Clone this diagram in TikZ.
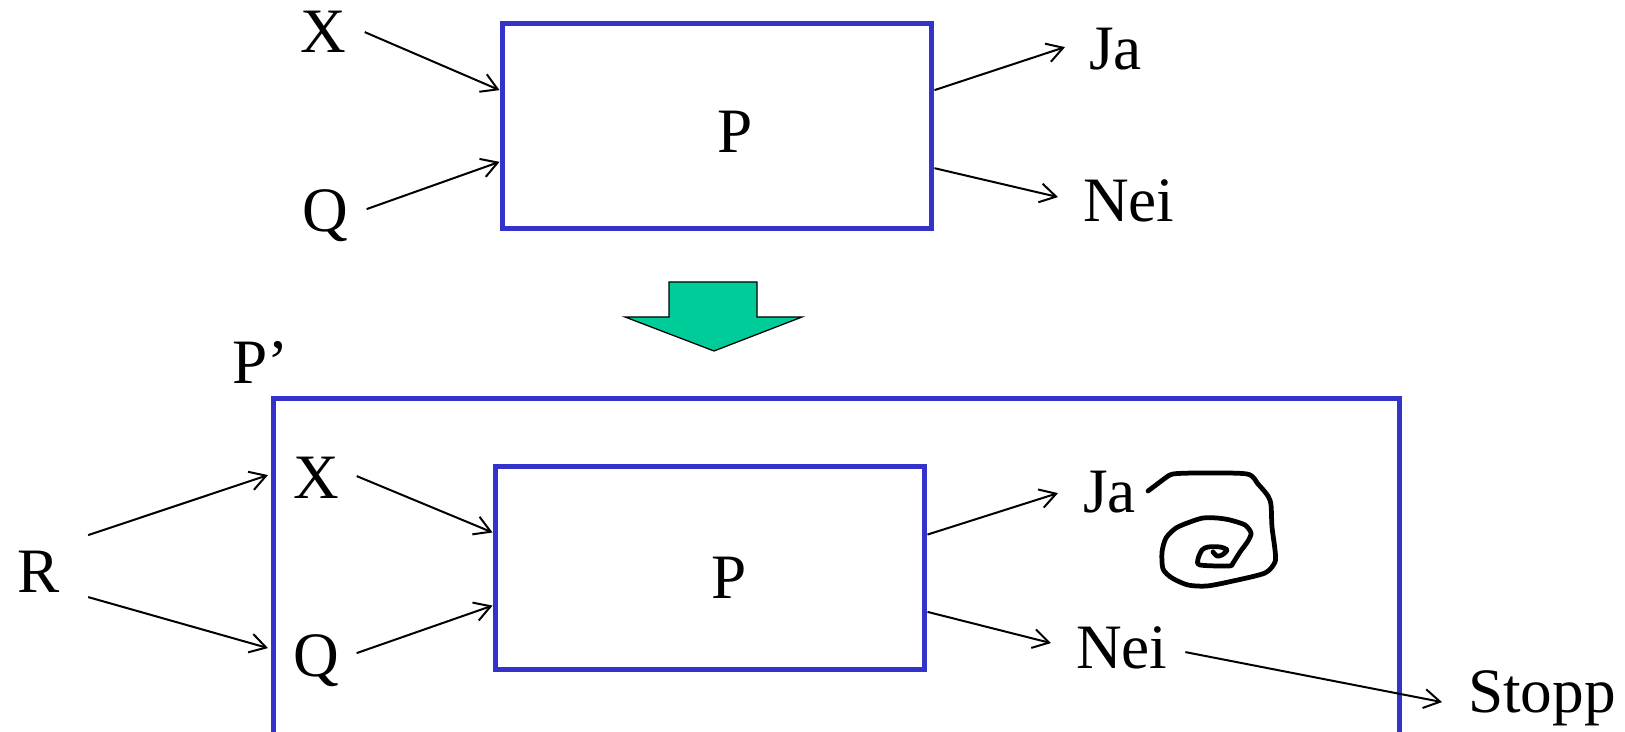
\documentclass[tikz,border=0pt]{standalone}
\usepackage{fontspec}
\setmainfont{Liberation Serif}
\usetikzlibrary{arrows.meta,calc}

\definecolor{pblue}{RGB}{51,51,204}
\definecolor{pgreen}{RGB}{0,204,153}

\tikzset{
  lbl/.style={font=\fontsize{36}{40}\selectfont, inner sep=0pt, outer sep=0pt,
              text height=23.8pt, text depth=0pt, anchor=base west},
  frame/.style={draw=pblue, line width=0.1cm, inner sep=0pt},
  pbox/.style={frame, minimum width=8.6cm},
  arr/.style={-{Straight Barb[length=0.32cm,width=0.38cm]}, line width=0.04cm},
  scribble/.style={line width=0.095cm, line cap=round, line join=round},
}

\begin{document}
\begin{tikzpicture}[x=0.02cm,y=-0.02cm]
  \useasboundingbox (0,0) rectangle (1625,732);
  \clip (0,0) rectangle (1625,732);

  % ---------- program P on its own ----------
  \node[pbox, minimum height=4.12cm] (P) at (717,126) {};
  \node[lbl] (Plbl) at (717,153) {P};
  \node[lbl] (X)   at (300,53)  {X};
  \node[lbl] (Q)   at (302,232) {Q};
  \node[lbl] (Ja)  at (1089,70) {Ja};
  \node[lbl] (Nei) at (1083,222) {Nei};

  \draw[arr] ([shift={(19,0)}]X.east) -- ($(P.north west)!0.33!(P.south west)$);
  \draw[arr] ([shift={(19,-2)}]Q.east) -- ($(P.north west)!0.67!(P.south west)$);
  \draw[arr] ($(P.north east)!0.33!(P.south east)$) -- ([shift={(-24,-2)}]Ja.west);
  \draw[arr] ($(P.north east)!0.70!(P.south east)$) -- ([shift={(-25,-4)}]Nei.west);

  % ---------- block arrow ----------
  \draw[fill=pgreen, line width=0.025cm]
    (669,282) -- (757,282) -- (757,317) -- (802,317) -- (714,351)
    -- (625,317) -- (669,317) -- cycle;

  % ---------- program P' wrapping P ----------
  \node[lbl] (Pplbl) at (232,384) {P’};
  \node[frame, minimum width=22.54cm, minimum height=8.04cm] (Pp) at (836.5,599) {};

  \node[pbox, minimum height=4.08cm] (Pi) at (710,568) {};
  \node[lbl] (Pilbl) at (711,598) {P};
  \node[lbl] (R)    at (17,592)   {R};
  \node[lbl] (Xi)   at (293,499)  {X};
  \node[lbl] (Qi)   at (293,676)  {Q};
  \node[lbl] (Jai)  at (1083,513) {Ja};
  \node[lbl] (Neii) at (1076,668) {Nei};
  \node[lbl] (Stopp) at (1468,712) {Stopp};

  \draw[arr] ([shift={(29,-36)}]R.east) -- ([shift={(-25,-3)}]Xi.west);
  \draw[arr] ([shift={(29,26)}]R.east) -- ([shift={(-25,-7)}]Qi.west);
  \draw[arr] ([shift={(18,-2)}]Xi.east) -- ($(Pi.north west)!0.33!(Pi.south west)$);
  \draw[arr] ([shift={(18,-2)}]Qi.east) -- ($(Pi.north west)!0.68!(Pi.south west)$);
  \draw[arr] ($(Pi.north east)!0.34!(Pi.south east)$) -- ([shift={(-25,1)}]Jai.west);
  \draw[arr] ($(Pi.north east)!0.71!(Pi.south east)$) -- ([shift={(-25,-4)}]Neii.west);
  \draw[arr] ([shift={(18,5)}]Neii.east) -- ([shift={(-26,11)}]Stopp.west);

  % ---------- endless loop after "Ja" ----------
  \draw[scribble] plot[smooth, tension=0.45] coordinates {
    (1148,491) (1156,485) (1164,479) (1173,474) (1200,473) (1247,474)
    (1258,484) (1268,496) (1271,505) (1272,527) (1275,550) (1275,562)
    (1265,573) (1233,581) (1207,586) (1188,585) (1172,578) (1163,569)
    (1162,552) (1166,538) (1176,528) (1190,522) (1203,518) (1217,518)
    (1230,520) (1245,525) (1251,533) (1248,541) (1240,552) (1233,563)
    (1229,566) (1200,565) (1198,559) (1202,550) (1208,547) (1220,547)
    (1227,550) (1222,555) (1217,556) (1213,552)};
\end{tikzpicture}
\end{document}
